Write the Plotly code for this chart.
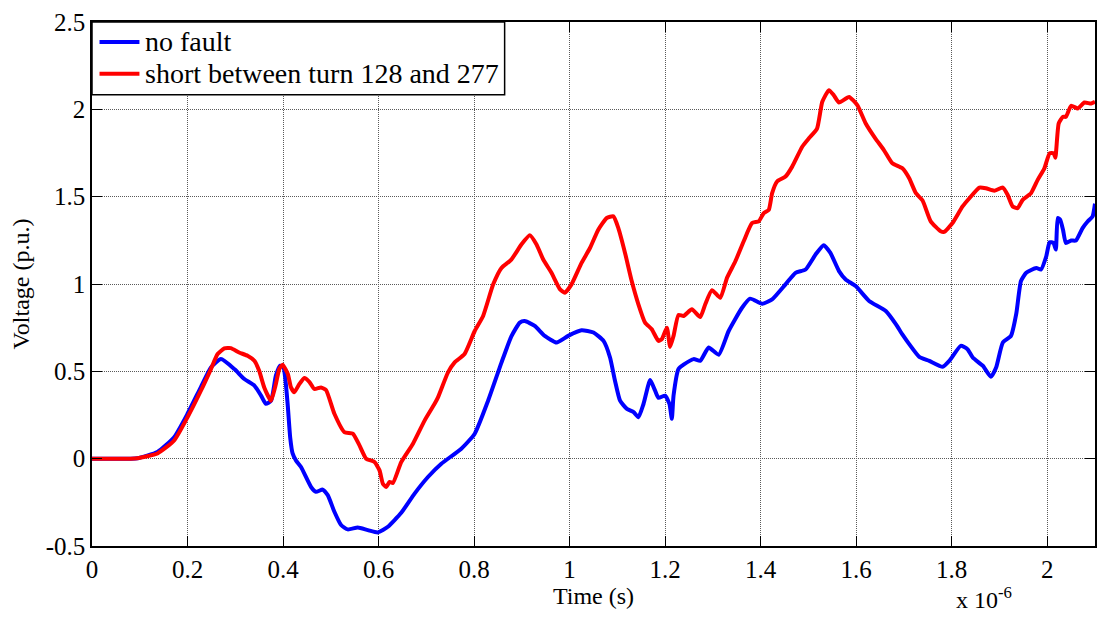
import plotly.graph_objects as go

# time in microseconds (axis shows x 10^-6 s)
t_nofault = [0, 0.08, 0.095, 0.137, 0.172, 0.2, 0.228, 0.249, 0.27, 0.298, 0.319, 0.34, 0.354,
             0.364, 0.375, 0.385, 0.394, 0.401, 0.405, 0.41, 0.415, 0.42, 0.427, 0.4376, 0.4586,
             0.469, 0.483, 0.4936, 0.5075, 0.5215, 0.5356, 0.5566, 0.5776, 0.5986, 0.6195,
             0.6474, 0.6754, 0.7034, 0.7314, 0.7733, 0.8013, 0.8293, 0.8573, 0.878, 0.8957,
             0.906, 0.927, 0.948, 0.9727, 0.997, 1.025, 1.05, 1.071, 1.0846, 1.095, 1.1056,
             1.12, 1.134, 1.144, 1.1547, 1.1686, 1.179, 1.186, 1.2, 1.209, 1.214, 1.2176, 1.228,
             1.2386, 1.2596, 1.2735, 1.291, 1.312, 1.333, 1.361, 1.378, 1.403, 1.424, 1.452,
             1.473, 1.494, 1.515, 1.532, 1.546, 1.564, 1.578, 1.599, 1.627, 1.662, 1.683, 1.697,
             1.711, 1.732, 1.753, 1.781, 1.795, 1.819, 1.833, 1.844, 1.865, 1.882, 1.893, 1.907,
             1.924, 1.935, 1.945, 1.956, 1.977, 1.987, 1.998, 2.005, 2.013, 2.018, 2.022, 2.027,
             2.033, 2.039, 2.05, 2.06, 2.074, 2.085, 2.095, 2.1]
v_nofault = [0, 0, 0.002, 0.038, 0.123, 0.257, 0.41, 0.522, 0.57, 0.513, 0.456, 0.418, 0.361,
             0.314, 0.332, 0.475, 0.532, 0.522, 0.45, 0.3, 0.12, 0.03, -0.01, -0.048, -0.162,
             -0.19, -0.177, -0.209, -0.304, -0.38, -0.405, -0.394, -0.409, -0.422, -0.39,
             -0.31, -0.2, -0.105, -0.029, 0.057, 0.143, 0.332, 0.55, 0.70, 0.779,
             0.788, 0.76, 0.703, 0.665, 0.703, 0.735, 0.722, 0.674, 0.579, 0.446, 0.332,
             0.285, 0.266, 0.237, 0.313, 0.45, 0.389, 0.348, 0.361, 0.313, 0.228, 0.361, 0.513,
             0.538, 0.57, 0.56, 0.636, 0.595, 0.731, 0.864, 0.916, 0.887, 0.912, 0.998,
             1.064, 1.083, 1.169, 1.222, 1.178, 1.074, 1.026, 0.988, 0.903, 0.845, 0.77, 0.71,
             0.656, 0.583, 0.56, 0.526, 0.56, 0.646, 0.627, 0.579, 0.532, 0.469, 0.522, 0.665,
             0.703, 0.827, 1.017, 1.064, 1.092, 1.083, 1.159, 1.239, 1.235, 1.197, 1.378, 1.368,
             1.311, 1.235, 1.249, 1.249, 1.32, 1.359, 1.387, 1.46]

t_short = [0, 0.08, 0.095, 0.137, 0.172, 0.2, 0.228, 0.249, 0.263, 0.277, 0.2907, 0.308, 0.3257,
           0.34, 0.35, 0.3606, 0.3746, 0.385, 0.392, 0.399, 0.41, 0.4166, 0.4235, 0.434, 0.4445,
           0.455, 0.4655, 0.4795, 0.49, 0.5075, 0.5284, 0.546, 0.56, 0.574, 0.5915, 0.602, 0.609,
           0.616, 0.623, 0.63, 0.6474, 0.672, 0.6963, 0.7173, 0.7244, 0.7454, 0.7593, 0.78,
           0.8013, 0.8189, 0.84, 0.8573, 0.878, 0.899, 0.9167, 0.9307, 0.9448, 0.962, 0.98, 0.99,
           1.004, 1.025, 1.0426, 1.06, 1.0777, 1.0917, 1.102, 1.116, 1.13, 1.144, 1.158, 1.172,
           1.186, 1.193, 1.2036, 1.2105, 1.2176, 1.228, 1.2386, 1.256, 1.2735, 1.284, 1.298,
           1.3155, 1.3295, 1.347, 1.3645, 1.382, 1.396, 1.4065, 1.417, 1.424, 1.4344, 1.452,
           1.466, 1.487, 1.501, 1.518, 1.529, 1.543, 1.553, 1.564, 1.585, 1.6023, 1.62, 1.64,
           1.658, 1.6757, 1.6967, 1.711, 1.725, 1.739, 1.756, 1.777, 1.784, 1.8017, 1.8227,
           1.837, 1.858, 1.8716, 1.889, 1.907, 1.917, 1.9276, 1.938, 1.9486, 1.966, 1.98, 1.994,
           2.005, 2.0135, 2.017, 2.024, 2.033, 2.039, 2.05, 2.064, 2.078, 2.092, 2.1]
v_short = [0, 0, 0.002, 0.03, 0.104, 0.237, 0.389, 0.513, 0.599, 0.631, 0.633, 0.608, 0.589,
           0.56, 0.503, 0.408, 0.332, 0.427, 0.513, 0.538, 0.485, 0.408, 0.38, 0.427, 0.462,
           0.44, 0.399, 0.408, 0.393, 0.257, 0.152, 0.143, 0.076, 0.0, -0.019, -0.067, -0.143,
           -0.162, -0.133, -0.139, -0.02, 0.086, 0.218, 0.314, 0.351, 0.494, 0.551, 0.599,
           0.731, 0.817, 0.998, 1.092, 1.14, 1.226, 1.279, 1.226, 1.14, 1.064, 0.969, 0.95,
           0.998, 1.121, 1.206, 1.311, 1.378, 1.387, 1.32, 1.178, 1.017, 0.884, 0.779, 0.741,
           0.674, 0.684, 0.75, 0.64, 0.703, 0.823, 0.817, 0.855, 0.811, 0.884, 0.965,
           0.921, 1.035, 1.13, 1.245, 1.349, 1.359, 1.406, 1.425, 1.52, 1.587, 1.615,
           1.672, 1.786, 1.834, 1.89, 2.043, 2.11, 2.081, 2.039, 2.071, 2.024, 1.919, 1.834,
           1.767, 1.691, 1.662, 1.605, 1.52, 1.478, 1.359, 1.302, 1.298, 1.349, 1.444,
           1.491, 1.552, 1.548, 1.534, 1.552, 1.511, 1.444, 1.434, 1.482, 1.52, 1.596, 1.662,
           1.748, 1.748, 1.723, 1.919, 1.957, 1.957, 2.02, 2.005, 2.039, 2.033, 2.043]

series_names = ["no fault", "short between turn 128 and 277"]
series_colors = ["#0000ff", "#ff0000"]

x_ticks = [0, 0.2, 0.4, 0.6, 0.8, 1.0, 1.2, 1.4, 1.6, 1.8, 2.0]
x_labels = ["0", "0.2", "0.4", "0.6", "0.8", "1", "1.2", "1.4", "1.6", "1.8", "2"]
y_ticks = [-0.5, 0, 0.5, 1, 1.5, 2, 2.5]
y_labels = ["-0.5", "0", "0.5", "1", "1.5", "2", "2.5"]

FONT = "Liberation Serif, Times New Roman, serif"

fig = go.Figure()
for t, v, name, color in [(t_nofault, v_nofault, series_names[0], series_colors[0]),
                          (t_short, v_short, series_names[1], series_colors[1])]:
    fig.add_trace(go.Scatter(x=t, y=v, mode="lines", name=name, showlegend=False,
                             line=dict(color=color, width=4, shape="spline", smoothing=0.5)))

axis_common = dict(showline=True, linecolor="black", linewidth=1.5, mirror="ticks",
                   ticks="inside", ticklen=10, tickwidth=1, tickcolor="black",
                   showgrid=True, gridcolor="#5a5a5a", gridwidth=1, griddash="1px,1px",
                   zeroline=False, tickfont=dict(family=FONT, size=25, color="black"))

fig.update_xaxes(range=[0, 2.1], tickvals=x_ticks, ticktext=x_labels,
                 title=dict(text="Time (s)", font=dict(family=FONT, size=24, color="black"),
                            standoff=0),
                 **axis_common)
fig.update_yaxes(range=[-0.5, 2.5], tickvals=y_ticks, ticktext=y_labels,
                 title=dict(text="Voltage (p.u.)", font=dict(family=FONT, size=24, color="black"),
                            standoff=9),
                 **axis_common)

fig.add_annotation(text="x 10<sup>-6</sup>", xref="paper", yref="paper",
                   x=0.919, y=-0.1, xanchor="right", yanchor="middle", showarrow=False,
                   font=dict(family=FONT, size=24, color="black"))

# legend box drawn inside the top-left corner of the axes (paper coordinates)
leg_x1 = 0.4114
leg_y0 = 0.8612
row_y = [0.962, 0.9011]
fig.add_shape(type="rect", xref="paper", yref="paper", x0=0, x1=leg_x1, y0=leg_y0, y1=1,
              line=dict(color="black", width=1.5), fillcolor="white", layer="above")
for i in range(2):
    fig.add_shape(type="line", xref="paper", yref="paper", x0=0.0075, x1=0.0473,
                  y0=row_y[i], y1=row_y[i], line=dict(color=series_colors[i], width=4),
                  layer="above")
    fig.add_annotation(text=series_names[i], xref="paper", yref="paper", x=0.0505, y=row_y[i],
                       xanchor="left", yanchor="middle", showarrow=False,
                       font=dict(family=FONT, size=28, color="black"))

fig.update_layout(width=1106, height=618,
                  margin=dict(l=92, r=9, t=20, b=72),
                  paper_bgcolor="white", plot_bgcolor="white",
                  font=dict(family=FONT, color="black"),
                  showlegend=False)

fig.write_html("out.html")
